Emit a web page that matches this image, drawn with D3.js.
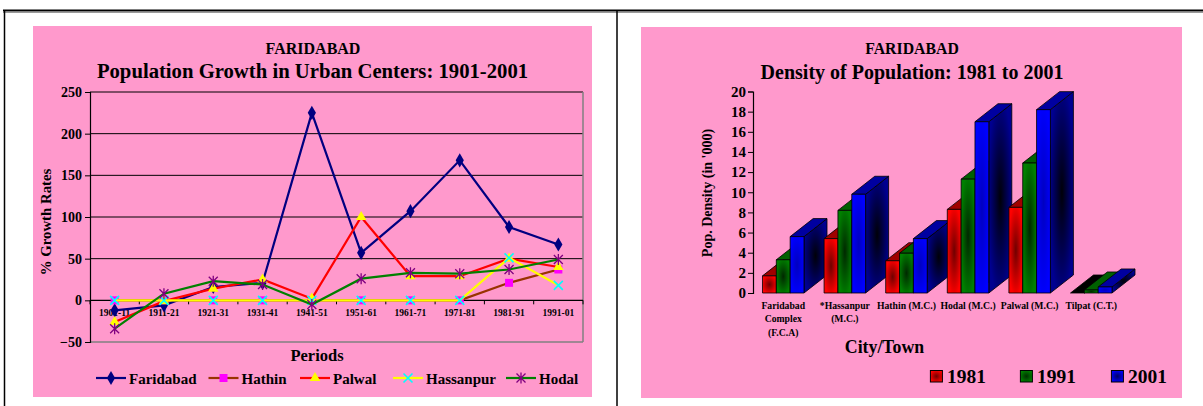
<!DOCTYPE html>
<html><head><meta charset="utf-8">
<script src="https://cdn.jsdelivr.net/npm/d3@7"></script>
<style>
body{margin:0;background:#fff}
svg{display:block}
text{font-family:"Liberation Serif","Times New Roman",serif;font-weight:bold;fill:#000}
</style>
</head><body>
<svg id="c" width="1203" height="406"></svg>
<script>
// ---------- DATA: left chart ----------
const periods = ["1901-11","1911-21","1921-31","1931-41","1941-51","1951-61","1961-71","1971-81","1981-91","1991-01"];
const growthTicks = [-50,0,50,100,150,200,250];
const faridabad = [-12,-6,16,21,225,57,107,168,88,67];
const hathin    = [0,0,0,0,0,0,0,0,21,37];
const palwal    = [-26,-1,14,25,2,100,29,29,50,40];
const hassanpur = [0,0,0,0,0,0,0,0,51,18];
const hodal     = [-34,8,23,19,-5,26,33,32,37,49];

// ---------- DATA: right chart ----------
const towns = ["Faridabad Complex (F.C.A)","*Hassanpur (M.C.)","Hathin (M.C.)","Hodal (M.C.)","Palwal (M.C.)","Tilpat (C.T.)"];
const townLabelLines = [["Faridabad","Complex","(F.C.A)"],["*Hassanpur","(M.C.)"],["Hathin (M.C.)"],["Hodal (M.C.)"],["Palwal (M.C.)"],["Tilpat (C.T.)"]];
const years = ["1981","1991","2001"];
const density1981 = [1.7,5.4,3.2,8.3,8.5,0.0];
const density1991 = [3.3,8.2,3.95,11.3,12.9,0.3];
const density2001 = [5.6,9.8,5.4,17.0,18.2,0.6];
const densityTicks = [0,2,4,6,8,10,12,14,16,18,20];

const svg = d3.select("#c");

// ---------- frame ----------
svg.append("rect").attr("x",33).attr("y",26).attr("width",559).attr("height",371).attr("fill","#ff99cc");
svg.append("rect").attr("x",641).attr("y",27).attr("width",541).attr("height",371).attr("fill","#ff99cc");
svg.append("line").attr("x1",3).attr("x2",1203).attr("y1",10.5).attr("y2",10.5).attr("stroke","#000").attr("stroke-width",2);
svg.append("line").attr("x1",3).attr("x2",1203).attr("y1",12.5).attr("y2",12.5).attr("stroke","#999").attr("stroke-width",1);
svg.append("line").attr("x1",4.5).attr("x2",4.5).attr("y1",10).attr("y2",406).attr("stroke","#000").attr("stroke-width",1.5);
svg.append("line").attr("x1",617).attr("x2",617).attr("y1",10).attr("y2",406).attr("stroke","#000").attr("stroke-width",1.5);

// ================= LEFT CHART =================
const L = svg.append("g");
const x = d3.scaleBand().domain(periods).range([90,583]).padding(0);
const y = d3.scaleLinear().domain([-50,250]).range([342,92]);
const cx = d => x(d) + x.bandwidth()/2;

L.append("text").attr("x",313).attr("y",54).attr("text-anchor","middle").style("font-size","16px").text("FARIDABAD");
L.append("text").attr("x",312.5).attr("y",77.5).attr("text-anchor","middle").style("font-size","20.7px").text("Population Growth in Urban Centers: 1901-2001");

// gridlines
L.selectAll(".grid").data(growthTicks.filter(v=>v>0)).join("line")
  .attr("x1",90).attr("x2",583).attr("y1",d=>y(d)).attr("y2",d=>y(d))
  .attr("stroke","#000").attr("stroke-width",1);
// plot border right + bottom
L.append("line").attr("x1",583).attr("x2",583).attr("y1",y(250)).attr("y2",y(-50)).attr("stroke","#808080").attr("stroke-width",1.5);
L.append("line").attr("x1",90).attr("x2",583).attr("y1",y(-50)).attr("y2",y(-50)).attr("stroke","#808080").attr("stroke-width",1.5);

// y axis
const yAx = L.append("g").attr("transform","translate(90,0)")
  .call(d3.axisLeft(y).tickValues(growthTicks).tickSize(5).tickPadding(3));
yAx.select(".domain").attr("stroke","#000").attr("stroke-width",1.2);
yAx.selectAll(".tick line").attr("stroke","#000");
yAx.selectAll(".tick text").style("font-size","14px").style("font-family","'Liberation Serif',serif").style("font-weight","bold").attr("fill","#000");

// zero line with ticks at category boundaries
L.append("line").attr("x1",90).attr("x2",583).attr("y1",y(0)).attr("y2",y(0)).attr("stroke","#000").attr("stroke-width",1.2);
L.selectAll(".ztick").data(d3.range(periods.length+1)).join("line")
  .attr("x1",i=>90+i*x.step()).attr("x2",i=>90+i*x.step())
  .attr("y1",y(0)).attr("y2",y(0)+4).attr("stroke","#000");
L.selectAll(".xlab").data(periods).join("text")
  .attr("x",d=>cx(d)).attr("y",y(0)+16).attr("text-anchor","middle").style("font-size","9.5px").text(d=>d);

// axis titles
L.append("text").attr("transform","translate(51,222) rotate(-90)").attr("text-anchor","middle").style("font-size","14.8px").text("% Growth Rates");
L.append("text").attr("x",317).attr("y",361).attr("text-anchor","middle").style("font-size","16.5px").text("Periods");

const series = [
  {name:"Faridabad", values:faridabad, line:"#000080", marker:"diamond",  mc:"#000080"},
  {name:"Hathin",    values:hathin,    line:"#993300", marker:"square",   mc:"#ff00ff"},
  {name:"Palwal",    values:palwal,    line:"#ff0000", marker:"triangle", mc:"#ffff00"},
  {name:"Hassanpur", values:hassanpur, line:"#ffff00", marker:"x",        mc:"#00ffff"},
  {name:"Hodal",     values:hodal,     line:"#008000", marker:"star",     mc:"#800080"}
];

function marker(g, type, px, py, c){
  if(type==="diamond"){
    g.append("path").attr("d",d3.symbol(d3.symbolDiamond,58)()).attr("transform",`translate(${px},${py})`).attr("fill",c);
  } else if(type==="square"){
    g.append("rect").attr("x",px-4).attr("y",py-4).attr("width",8).attr("height",8).attr("fill",c);
  } else if(type==="triangle"){
    g.append("path").attr("d",d3.symbol(d3.symbolTriangle,48)()).attr("transform",`translate(${px},${py})`).attr("fill",c);
  } else if(type==="x"){
    g.append("path").attr("d",`M${px-4.5},${py-4.5}L${px+4.5},${py+4.5}M${px-4.5},${py+4.5}L${px+4.5},${py-4.5}`).attr("stroke",c).attr("stroke-width",1.6);
  } else if(type==="star"){
    g.append("path").attr("d",`M${px-4.5},${py-4.5}L${px+4.5},${py+4.5}M${px-4.5},${py+4.5}L${px+4.5},${py-4.5}M${px},${py-5.5}L${px},${py+5.5}`).attr("stroke",c).attr("stroke-width",1.3);
  }
}

const lineGen = d3.line().x((d,i)=>cx(periods[i])).y(d=>y(d));
series.forEach(s=>{
  const g = L.append("g");
  g.append("path").attr("d",lineGen(s.values)).attr("fill","none").attr("stroke",s.line).attr("stroke-width",2.2);
  s.values.forEach((v,i)=>marker(g,s.marker,cx(periods[i]),y(v),s.mc));
});

// legend
const legX = [96,208.5,300,393,506];
series.forEach((s,i)=>{
  const g = L.append("g");
  const lx = legX[i];
  g.append("line").attr("x1",lx).attr("x2",lx+30).attr("y1",378).attr("y2",378).attr("stroke",s.line).attr("stroke-width",2.2);
  marker(g,s.marker,lx+15,378,s.mc);
  g.append("text").attr("x",lx+33).attr("y",384).style("font-size","15px").text(s.name);
});

// ================= RIGHT CHART =================
const R = svg.append("g");
const defs = svg.append("defs");
function radial(id, inner, outer){
  const g = defs.append("radialGradient").attr("id",id).attr("cx","50%").attr("cy","50%").attr("r","55%");
  g.append("stop").attr("offset","0%").attr("stop-color",inner);
  g.append("stop").attr("offset","100%").attr("stop-color",outer);
}
const colors = {
  "1981":{front:["#700000","#ff0000"], side:["#300000","#900000"], top:"#a00000", legend:["#700000","#ff0000"]},
  "1991":{front:["#002800","#008000"], side:["#001000","#005000"], top:"#006000", legend:["#003000","#008000"]},
  "2001":{front:["#0000c0","#0000ff"], side:["#000008","#000090"], top:"#0000a0", legend:["#000060","#0000ff"]}
};
years.forEach(yr=>{
  radial("f"+yr, ...colors[yr].front);
  radial("s"+yr, ...colors[yr].side);
  radial("l"+yr, ...colors[yr].legend);
});

R.append("text").attr("x",912).attr("y",54).attr("text-anchor","middle").style("font-size","15.8px").text("FARIDABAD");
R.append("text").attr("x",912).attr("y",79).attr("text-anchor","middle").style("font-size","20px").text("Density of Population: 1981 to 2001");

const x0 = d3.scaleBand().domain(towns).range([753,1121.5]).paddingInner(0.326).paddingOuter(0.154);
const x1 = d3.scaleBand().domain(years).range([0,x0.bandwidth()]);
const y2 = d3.scaleLinear().domain([0,20]).range([293,91.5]);

const yAx2 = R.append("g").attr("transform","translate(753,0)")
  .call(d3.axisLeft(y2).tickValues(densityTicks).tickSize(5).tickPadding(2).tickFormat(d3.format("d")));
yAx2.select(".domain").attr("stroke","#000").attr("stroke-width",1.2);
yAx2.selectAll(".tick line").attr("stroke","#000");
yAx2.selectAll(".tick text").style("font-size","15px").style("font-family","'Liberation Serif',serif").style("font-weight","bold").attr("fill","#000");

const DX = 23, DY = -18;
const byYear = {"1981":density1981,"1991":density1991,"2001":density2001};
towns.forEach((t,ti)=>{
  years.forEach(yr=>{
    const v = byYear[yr][ti];
    const bx = x0(t)+x1(yr), bw = x1.bandwidth();
    const yt = y2(v), yb = y2(0);
    const g = R.append("g").attr("stroke","#000").attr("stroke-width",0.8).attr("stroke-linejoin","round");
    g.append("path").attr("d",`M${bx+bw},${yt}L${bx+bw+DX},${yt+DY}L${bx+bw+DX},${yb+DY}L${bx+bw},${yb}Z`).attr("fill",`url(#s${yr})`);
    g.append("path").attr("d",`M${bx},${yt}L${bx+DX},${yt+DY}L${bx+bw+DX},${yt+DY}L${bx+bw},${yt}Z`).attr("fill",v<0.05?"#000":colors[yr].top);
    if(yb-yt>0.3) g.append("rect").attr("x",bx).attr("y",yt).attr("width",bw).attr("height",yb-yt).attr("fill",`url(#f${yr})`);
  });
  const lines = townLabelLines[ti];
  const tx = x0(t)+x0.bandwidth()/2;
  lines.forEach((ln,li)=>{
    R.append("text").attr("x",tx).attr("y",308.5+li*13.5).attr("text-anchor","middle").style("font-size","9.7px").attr("fill","#222").text(ln);
  });
});

R.append("text").attr("transform","translate(712,193) rotate(-90)").attr("text-anchor","middle").style("font-size","14px").text("Pop. Density (in '000)");
R.append("text").attr("x",884.5).attr("y",353).attr("text-anchor","middle").style("font-size","17.8px").text("City/Town");

const leg2X = [930.4,1020.4,1111.4];
years.forEach((yr,i)=>{
  R.append("rect").attr("x",leg2X[i]).attr("y",370.5).attr("width",12).attr("height",11.5).attr("fill",`url(#l${yr})`).attr("stroke","#000").attr("stroke-width",1);
  R.append("text").attr("x",leg2X[i]+16.5).attr("y",382.5).style("font-size","19.5px").text(yr);
});
</script>
</body></html>
